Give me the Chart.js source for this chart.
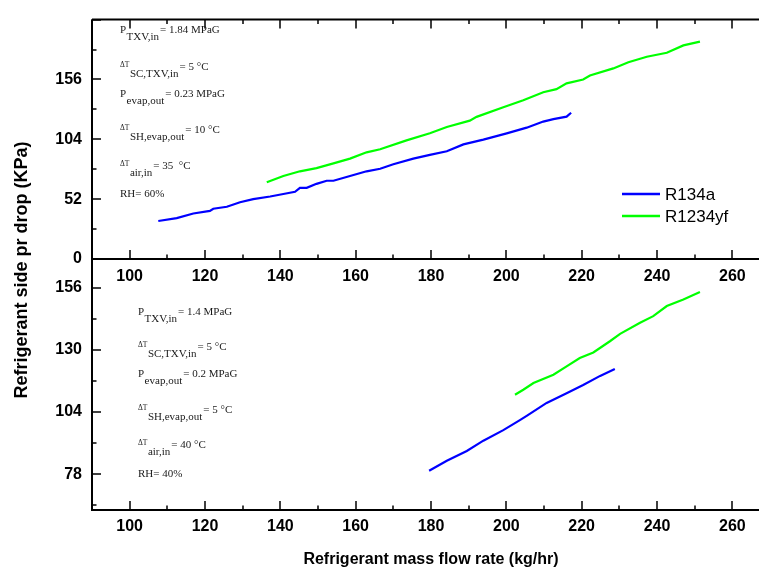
<!DOCTYPE html>
<html>
<head>
<meta charset="utf-8">
<script src="https://cdn.jsdelivr.net/npm/chart.js@4.4.1/dist/chart.umd.min.js"></script>
<style>
    html, body { margin: 0; padding: 0; background: #fff; overflow: hidden; }
    #wrap { position: relative; width: 759px; height: 575px; overflow: hidden; }
    #wrap canvas { position: absolute; left: 0; top: 0; }
</style>
</head>
<body>
<div id="wrap">
    <canvas id="topChart" width="770" height="575"></canvas>
    <canvas id="bottomChart" width="770" height="575"></canvas>
</div>
<script>
// series labels
var seriesNames = ['R134a', 'R1234yf'];

// upper panel (P TXV,in = 1.84 MPaG)
var topR134aFlow = [107.6, 112.5, 116.9, 121.3, 122.2, 125.8, 129.3, 132.8, 137.3, 140.8, 143.9, 145.2, 147.0, 149.6, 152.3, 154.1, 158.5, 162.9, 166.5, 170.0, 175.3, 179.7, 184.2, 188.6, 193.9, 200.1, 205.4, 209.8, 212.5, 216.0, 217.2];
var topR134aDrop = [33.0, 35.5, 39.5, 41.8, 43.7, 45.4, 49.3, 52.0, 54.3, 56.5, 58.4, 61.8, 61.8, 65.3, 68.0, 68.0, 72.1, 76.2, 78.4, 82.3, 87.2, 90.5, 93.6, 99.6, 103.7, 109.2, 114.1, 119.4, 121.5, 123.7, 127.1];
var topR1234yfFlow = [136.4, 140.8, 145.2, 149.6, 154.1, 158.5, 162.9, 166.5, 173.5, 179.7, 184.2, 190.3, 192.1, 199.2, 204.5, 209.8, 213.3, 216.0, 220.4, 222.2, 228.4, 232.4, 237.3, 242.6, 247.0, 251.4];
var topR1234yfDrop = [66.6, 72.1, 76.2, 79.0, 83.1, 87.2, 92.7, 95.4, 103.1, 109.2, 114.7, 120.2, 123.5, 131.8, 138.0, 144.9, 147.6, 152.6, 155.9, 159.4, 165.6, 171.0, 175.7, 179.2, 185.6, 188.9];

// lower panel (P TXV,in = 1.4 MPaG)
var botR134aFlow = [179.5, 184.2, 189.5, 193.9, 199.2, 203.6, 205.4, 210.7, 216.0, 220.4, 224.9, 228.8];
var botR134aDrop = [79.4, 83.6, 87.7, 92.0, 96.4, 100.6, 102.4, 107.8, 111.8, 115.3, 119.1, 122.0];
var botR1234yfFlow = [202.3, 204.5, 207.2, 212.5, 216.0, 219.5, 223.1, 227.5, 230.2, 235.5, 239.0, 242.6, 247.0, 251.4];
var botR1234yfDrop = [111.2, 113.3, 116.1, 119.6, 123.1, 126.6, 128.9, 133.6, 136.7, 141.3, 144.1, 148.3, 151.1, 154.2];

// axis ticks
var xTickLabels = [100, 120, 140, 160, 180, 200, 220, 240, 260];
var topYTickLabels = [0, 52, 104, 156];
var botYTickLabels = [78, 104, 130, 156];

// operating conditions written in each panel: [symbol, subscript, rest, small symbol]
var topNotes = [
    ['P', 'TXV,in', '= 1.84 MPaG', false],
    ['\u0394T', 'SC,TXV,in', '= 5 \u00B0C', true],
    ['P', 'evap,out', '= 0.23 MPaG', false],
    ['\u0394T', 'SH,evap,out', '= 10 \u00B0C', true],
    ['\u0394T', 'air,in', '= 35  \u00B0C', true],
    ['RH= 60%', '', '', false]
];
var botNotes = [
    ['P', 'TXV,in', '= 1.4 MPaG', false],
    ['\u0394T', 'SC,TXV,in', '= 5 \u00B0C', true],
    ['P', 'evap,out', '= 0.2 MPaG', false],
    ['\u0394T', 'SH,evap,out', '= 5 \u00B0C', true],
    ['\u0394T', 'air,in', '= 40 \u00B0C', true],
    ['RH= 40%', '', '', false]
];

var colors = ['#0000ff', '#00ff00'];
var tickFont = { family: '"Liberation Sans", Arial, sans-serif', weight: 'bold', size: 16 };

function toPoints(xs, ys) {
    return xs.map(function (x, i) { return { x: x, y: ys[i] }; });
}

// frame lines plus inward tick marks
var framePlugin = {
    id: 'frame',
    afterDatasetsDraw: function (chart, args, o) {
        var ctx = chart.ctx, a = chart.chartArea, xs = chart.scales.x, ys = chart.scales.y;
        ctx.save();
        ctx.strokeStyle = '#000';
        ctx.lineWidth = 2;
        ctx.beginPath();
        ctx.moveTo(a.left, a.top);
        ctx.lineTo(a.left, a.bottom);
        ctx.lineTo(a.right, a.bottom);
        if (o.top) {
            ctx.moveTo(a.left, a.top);
            ctx.lineTo(a.right, a.top);
        }
        ctx.stroke();
        ctx.lineWidth = 1.5;
        ctx.beginPath();
        var v, len, p;
        for (v = Math.ceil(xs.min / o.xMinor) * o.xMinor; v <= xs.max; v += o.xMinor) {
            len = v % o.xMajor === 0 ? 9 : 4.5;
            p = Math.round(xs.getPixelForValue(v));
            ctx.moveTo(p, a.bottom);
            ctx.lineTo(p, a.bottom - len);
            if (o.top) {
                ctx.moveTo(p, a.top);
                ctx.lineTo(p, a.top + len);
            }
        }
        for (v = Math.ceil(ys.min / o.yMinor) * o.yMinor; v <= ys.max; v += o.yMinor) {
            len = v % o.yMajor === 0 ? 9 : 4.5;
            p = Math.round(ys.getPixelForValue(v));
            ctx.moveTo(a.left, p);
            ctx.lineTo(a.left + len, p);
        }
        ctx.stroke();
        ctx.restore();
    }
};

// condition notes with subscripts
var notesPlugin = {
    id: 'notes',
    afterDraw: function (chart, args, o) {
        if (!o.lines) return;
        var ctx = chart.ctx;
        ctx.save();
        ctx.fillStyle = '#1a1a1a';
        ctx.textBaseline = 'alphabetic';
        ctx.textAlign = 'left';
        o.lines.forEach(function (line, i) {
            var x = o.x, y = o.baselines[i];
            if (line[3]) {
                ctx.font = '7.5px "Liberation Serif", serif';
                ctx.fillText(line[0], x, y - 3);
            } else {
                ctx.font = '11px "Liberation Serif", serif';
                ctx.fillText(line[0], x, y);
            }
            x += ctx.measureText(line[0]).width + 0.5;
            ctx.font = '11px "Liberation Serif", serif';
            if (line[1]) {
                ctx.fillText(line[1], x, y + 7);
                x += ctx.measureText(line[1]).width + 1;
            }
            if (line[2]) ctx.fillText(line[2], x, y);
        });
        ctx.restore();
    }
};

// legend inside upper panel and the shared y title
var extrasPlugin = {
    id: 'extras',
    afterDraw: function (chart, args, o) {
        if (!o.show) return;
        var ctx = chart.ctx;
        ctx.save();
        chart.data.datasets.forEach(function (ds, i) {
            var y = 194 + i * 22;
            ctx.strokeStyle = ds.borderColor;
            ctx.lineWidth = 2.5;
            ctx.beginPath();
            ctx.moveTo(622, y);
            ctx.lineTo(660, y);
            ctx.stroke();
            ctx.fillStyle = '#000';
            ctx.font = '17px "Liberation Sans", Arial, sans-serif';
            ctx.textBaseline = 'middle';
            ctx.fillText(ds.label, 665, y + 1);
        });
        ctx.translate(22, 270);
        ctx.rotate(-Math.PI / 2);
        ctx.font = 'bold 18px "Liberation Sans", Arial, sans-serif';
        ctx.textAlign = 'center';
        ctx.textBaseline = 'middle';
        ctx.fillStyle = '#000';
        ctx.fillText('Refrigerant side pr drop (KPa)', 0, 0);
        ctx.restore();
    }
};

function makeChart(id, sets, cfg) {
    return new Chart(document.getElementById(id).getContext('2d'), {
        type: 'line',
        data: {
            datasets: sets.map(function (s, i) {
                return {
                    label: seriesNames[i],
                    data: s,
                    borderColor: colors[i],
                    backgroundColor: colors[i],
                    borderWidth: 2.2,
                    pointRadius: 0,
                    tension: 0,
                    fill: false
                };
            })
        },
        options: {
            responsive: false,
            animation: false,
            devicePixelRatio: 1,
            layout: { padding: cfg.padding },
            scales: {
                x: {
                    type: 'linear',
                    min: 90,
                    max: 270,
                    grid: { display: false, drawTicks: false },
                    border: { display: false },
                    ticks: {
                        stepSize: 10,
                        autoSkip: false,
                        maxRotation: 0,
                        padding: cfg.xPad,
                        color: '#000',
                        font: tickFont,
                        callback: function (v) { return xTickLabels.indexOf(v) >= 0 ? String(v) : null; }
                    },
                    title: cfg.xTitle,
                    afterFit: function (s) { s.height = cfg.xHeight; }
                },
                y: {
                    min: cfg.yMin,
                    max: cfg.yMax,
                    grid: { display: false, drawTicks: false },
                    border: { display: false },
                    ticks: {
                        stepSize: cfg.yStep,
                        autoSkip: false,
                        padding: 10,
                        color: '#000',
                        font: tickFont,
                        callback: function (v) { return cfg.yLabels.indexOf(v) >= 0 ? String(v) : null; }
                    },
                    afterFit: function (s) { s.width = 92; }
                }
            },
            plugins: {
                legend: { display: false },
                tooltip: { enabled: false },
                frame: cfg.frame,
                notes: cfg.notes,
                extras: { show: cfg.extras }
            }
        },
        plugins: [framePlugin, notesPlugin, extrasPlugin]
    });
}

var topChart = makeChart('topChart', [
    toPoints(topR134aFlow, topR134aDrop),
    toPoints(topR1234yfFlow, topR1234yfDrop)
], {
    padding: { left: 0, right: 0, top: 7, bottom: 286 },
    xHeight: 30,
    xPad: 8,
    xTitle: { display: false },
    yMin: 0, yMax: 208, yStep: 26,
    yLabels: topYTickLabels,
    frame: { top: true, xMinor: 10, xMajor: 20, yMinor: 26, yMajor: 52 },
    notes: { lines: topNotes, x: 120, baselines: [33, 69.5, 97, 133, 169, 197] },
    extras: true
});

var bottomChart = makeChart('bottomChart', [
    toPoints(botR134aFlow, botR134aDrop),
    toPoints(botR1234yfFlow, botR1234yfDrop)
], {
    padding: { left: 0, right: 0, top: 259, bottom: 0 },
    xHeight: 65,
    xPad: 7,
    xTitle: {
        display: true,
        text: 'Refrigerant mass flow rate (kg/hr)',
        color: '#000',
        font: { family: '"Liberation Sans", Arial, sans-serif', weight: 'bold', size: 16 },
        padding: { top: 0, bottom: 6 }
    },
    yMin: 63, yMax: 168, yStep: 13,
    yLabels: botYTickLabels,
    frame: { top: false, xMinor: 10, xMajor: 20, yMinor: 13, yMajor: 26 },
    notes: { lines: botNotes, x: 138, baselines: [315, 350, 377, 413, 448, 477] },
    extras: false
});
</script>
</body>
</html>
